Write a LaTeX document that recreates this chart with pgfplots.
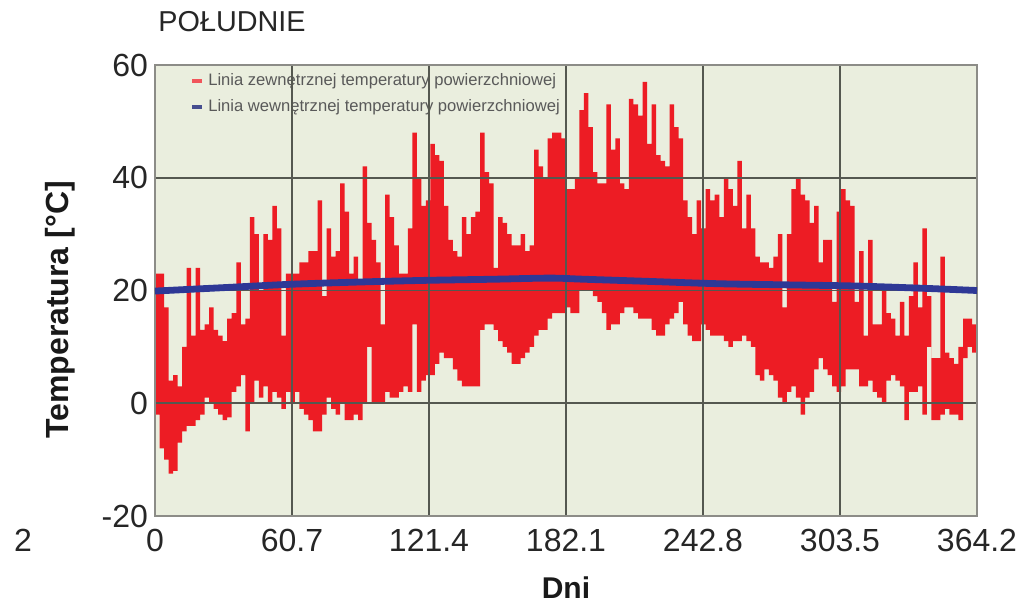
\documentclass[border=0pt]{standalone}
\usepackage{pgfplots}
\pgfplotsset{compat=1.18}
\usepgfplotslibrary{fillbetween}
\usepackage{pgfplotstable}
\usepackage{fontspec}
\setmainfont{Liberation Sans}
\definecolor{bg}{RGB}{234,238,222}
\definecolor{gridc}{RGB}{85,88,80}
\definecolor{redc}{RGB}{237,28,36}
\definecolor{bluec}{RGB}{46,56,150}
\definecolor{framec}{RGB}{140,140,135}
\pgfplotstableread{
x hi lo
0 23 -2
2 23 -8
4 17 -10
6 4 -12.5
8 5 -12
10 3 -7
12 10 -5
14 24 -4
16 12 -4
18 24 -3
20 13 -2
22 14 1
24 17 0
26 13 -1
28 12 -2
30 11 -3
32 15 -2.5
34 16 2
36 25 3
38 14 5
40 15 -5
42 33 0
44 30 4
46 20 1
48 30 3
50 29 0
52 35 2
54 31 1
56 12 -1
58 23 2
60 23 0
62 23 2
64 25 -1
66 25 -2
68 27 -3
70 27 -5
72 36 -5
74 19 -2
76 31 1
78 26 -1
80 27 -2
82 39 0
84 34 -3
86 23 -3
88 26 -2
90 22 -3
92 42 0
94 32 10
96 29 0
98 25 0
100 14 0
102 37 2
104 33 1
106 28 1
108 23 2
110 23 3
112 31 2
114 48 14
116 40 2
118 35 4
120 36 5
122 46 5
124 44 7
126 43 9
128 35 8
130 29 8
132 27 6
134 26 4
136 33 3
138 30 3
140 33 3
142 34 3
144 48 13
146 41 14
148 39 14
150 24 13
152 33 11
154 32 10
156 30 9
158 28 7
160 28 7
162 30 8
164 27 9
166 28 10
168 45 12
170 42 13
172 40 13
174 47 15
176 48 16
178 48 16
180 47 16
182 38 17
184 38 16
186 40 16
188 52 20
190 55 20
192 49 20
194 41 19
196 39 18
198 39 16
200 53 13
202 45 14
204 47 14
206 39 16
208 38 17
210 54 17
212 53 16
214 51 15
216 57 15
218 46 15
220 53 13
222 44 12
224 43 12
226 42 14
228 53 15
230 49 16
232 47 18
234 36 14
236 33 12
238 30 11
240 36 11
242 31 14
244 38 13
246 36 12
248 37 12
250 33 12
252 40 11
254 38 10
256 35 11
258 43 11
260 31 12
262 37 11
264 31 10
266 26 5
268 25 4
270 25 6
272 24 5
274 26 4
276 30 1
278 17 0
280 30 2
282 38 3
284 40 1
286 37 -2
288 36 1
290 32 2
292 35 6
294 25 8
296 29 6
298 29 5
300 18 3
302 34 2
304 38 3
306 36 6
308 35 6
310 18 6
312 27 3
314 12 3
316 29 4
318 14 2
320 14 1
322 21 0
324 16 4
326 15 5
328 12 4
330 18 3
332 12 -3
334 19 2
336 25 2
338 17 3
340 31 -2
342 19 10
344 8 -3
346 8 -3
348 26 -2
350 9 -1
352 8 -2
354 7 -2
356 10 -3
358 15 8
360 15 10
362 14 9
364.2 14 9
}\surf
\pgfplotstableread{
x t
0 19.9
30 20.5
60 21.1
90 21.5
120 21.8
150 22.0
175 22.2
190 22.0
220 21.6
250 21.2
280 21.0
310 20.8
340 20.4
364.2 20.0
}\inner
\begin{document}
\begin{tikzpicture}
\begin{axis}[name=ax, scale only axis, width=411pt, height=225.5pt,
  xmin=0, xmax=364.2, ymin=-20, ymax=60,
  xtick={0,60.7,121.4,182.1,242.8,303.5,364.2},
  xticklabels={0,60.7,121.4,182.1,242.8,303.5,364.2},
  ytick={-20,0,20,40,60}, yticklabels={-20,0,20,40,60},
  grid=major, major grid style={gridc, line width=0.9pt},
  major tick length=0pt,
  axis line style={framec, line width=1pt},
  axis background/.style={fill=bg},
  axis on top,
  tick label style={font=\fontsize{16}{19}\selectfont, text=black!85},
  xticklabel style={yshift=-3pt},
  /pgf/number format/assume math mode=true,
  xlabel={Dni}, ylabel={Temperatura [°C]},
  label style={font=\bfseries\fontsize{15}{18}\selectfont, text=black!90},
  xlabel style={at={(axis description cs:0.5,-0.1596)}, anchor=center},
  ylabel style={at={(axis description cs:-0.1156,0.457)}, anchor=center, font=\bfseries\fontsize{16}{19}\selectfont},
  legend cell align=left,
  legend style={at={(axis description cs:0.04,0.995)}, anchor=north west, draw=none, fill=none,
    font=\fontsize{8.3}{9.5}\selectfont, text=black!65, row sep=1.5pt, inner sep=1pt},
  legend image code/.code={\draw[#1, line width=2pt] (0pt,0pt) -- (5pt,0pt);},
]
\addplot[name path=U, draw=none, const plot, forget plot] table[x=x,y=hi]{\surf};
\addplot[name path=L, draw=none, const plot, forget plot] table[x=x,y=lo]{\surf};
\addplot[redc, forget plot] fill between[of=U and L];
\addplot[bluec, line width=3.4pt, smooth, forget plot, on layer=axis foreground] table[x=x,y=t]{\inner};
\addlegendimage{redc!75}
\addlegendentry{Linia zewnętrznej temperatury powierzchniowej}
\addlegendimage{bluec!70!gray}
\addlegendentry{Linia wewnętrznej temperatury powierzchniowej}
\end{axis}
\node[anchor=west, inner sep=0pt, font=\fontsize{14.4}{17}\selectfont, text=black!85] at ([xshift=1.5pt, yshift=21.5pt]ax.north west) {POŁUDNIE};
\node[font=\fontsize{16}{19}\selectfont, text=black!85] at ([xshift=-66pt, yshift=-12pt]ax.south west) {2};
\pgfresetboundingbox
\path[use as bounding box] ([xshift=-77.5pt, yshift=-44pt]ax.south west) rectangle ++(508.5pt, 302pt);
\end{tikzpicture}
\end{document}
